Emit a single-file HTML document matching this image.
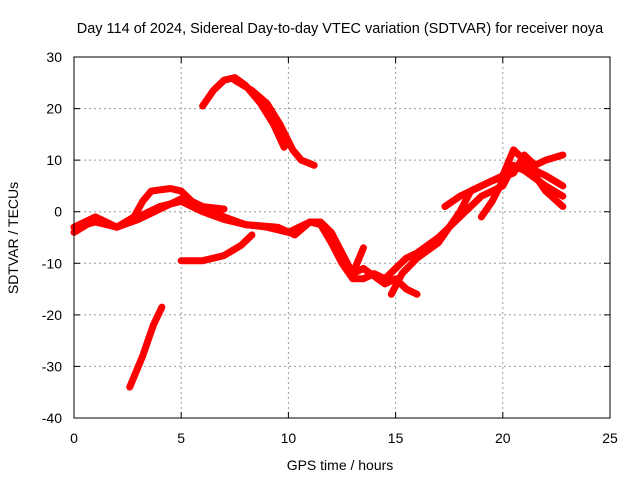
<!DOCTYPE html>
<html><head><meta charset="utf-8"><style>
body{margin:0;background:#fff;}
svg{display:block;font-family:"Liberation Sans",sans-serif;}
</style></head><body>
<svg id="chart" width="640" height="480" viewBox="0 0 640 480">
<rect width="640" height="480" fill="#fff"/>
<text x="340" y="33" font-size="14.5" text-anchor="middle">Day 114 of 2024, Sidereal Day-to-day VTEC variation (SDTVAR) for receiver noya</text>
<g id="grid"></g><g id="series"></g>
<rect x="74" y="57" width="536" height="361" fill="none" stroke="#000" stroke-width="1"/>
<g id="axes"></g>
<text x="340" y="470" font-size="14" text-anchor="middle">GPS time / hours</text>
<text transform="translate(18,238) rotate(-90)" font-size="14" text-anchor="middle">SDTVAR / TECUs</text>
</svg>
<script>
const xTicks=[0,5,10,15,20,25];
const yTicks=[30,20,10,0,-10,-20,-30,-40];
const trackA1=[[6,20.5],[6.5,23.5],[7,25.5],[7.5,26],[8,24.5],[8.7,21],[9.3,17],[9.8,12.5]];
const trackA2=[[7.5,25.5],[8.3,23.5],[9,21],[9.6,17],[10.2,12],[10.6,10],[11.2,9]];
const trackB=[[2.6,-34],[3.2,-28],[3.7,-22],[4.1,-18.5]];
const trackC=[[5,-9.5],[6,-9.5],[7,-8.5],[7.8,-6.5],[8.3,-4.5]];
const trackD=[[0,-4],[1,-1.5],[2,-3],[3,-1],[4,1],[5,2],[6,0],[7,-1.5],[8,-2.5],[9,-3],[10,-4],[10.5,-3],[11,-2],[11.5,-2.5],[12,-6],[12.5,-10],[13,-13],[13.5,-13],[14,-12],[14.5,-13],[15,-11],[15.5,-9],[16,-8],[17,-5],[18,-1],[19,3],[20,5],[20.5,9],[21,8],[22,5],[22.8,3]];
const trackE=[[0,-3],[1,-2],[2,-3],[2.8,-1],[3.2,2],[3.6,4],[4.5,4.5],[5,4],[5.5,2],[6,1],[7,0.5]];
const trackF=[[0,-3],[1,-1],[2,-3],[3,-1.5],[4,0.5],[5,2.5],[6,1],[7,-1],[8,-2.5],[9.5,-3],[10.3,-4.5],[11,-2],[11.5,-2],[12,-4],[12.5,-8],[13,-12],[13.5,-7]];
const trackG=[[12,-5],[12.5,-9],[13,-12],[13.5,-11],[14.5,-14],[15,-13],[15.5,-15],[16,-16]];
const trackH=[[14.8,-16],[15.3,-12],[16,-9],[17,-6],[17.5,-3],[18,0],[18.5,4],[19.5,6],[20.5,7.5],[21,11],[21.5,9],[22,10],[22.8,11]];
const trackI=[[17.3,1],[18,3],[19,5],[20,7],[20.5,12],[21,10],[22,4],[22.8,1]];
const trackJ=[[19,-1],[19.5,2],[20,6],[20.5,8],[21,9],[22,7],[22.8,5]];
const tracks=[trackA1,trackA2,trackB,trackC,trackD,trackE,trackF,trackG,trackH,trackI,trackJ];
const NS="http://www.w3.org/2000/svg";
const X0=74,X1=610,Y0=418,Y1=57;
function sx(v){return X0+(v-0)/(25-0)*(X1-X0);}
function sy(v){return Y0-(v+40)/70*(Y0-Y1);}
const grid=document.getElementById('grid'),axes=document.getElementById('axes'),ser=document.getElementById('series');
xTicks.forEach(t=>{
 const x=sx(t);
 if(t>0&&t<25){const l=document.createElementNS(NS,'line');
 
 
 l.setAttribute('x1',x);l.setAttribute('x2',x);l.setAttribute('y1',Y1);l.setAttribute('y2',Y0);l.setAttribute('stroke','#999');l.setAttribute('stroke-dasharray','2,3');grid.appendChild(l);}
 const tk=document.createElementNS(NS,'path');
 
 
 tk.setAttribute('d',`M${x},${Y0}v-6M${x},${Y1}v6`);tk.setAttribute('stroke','#000');axes.appendChild(tk);
 const tx=document.createElementNS(NS,'text');
 
 
 tx.setAttribute('x',x);tx.setAttribute('y',443);tx.setAttribute('font-size','14');tx.setAttribute('text-anchor','middle');tx.textContent=t;axes.appendChild(tx);
});
yTicks.forEach(t=>{
 const y=sy(t);
 if(t<30&&t>-40){const l=document.createElementNS(NS,'line');
 
 
 l.setAttribute('x1',X0);l.setAttribute('x2',X1);l.setAttribute('y1',y);l.setAttribute('y2',y);l.setAttribute('stroke','#999');l.setAttribute('stroke-dasharray','2,3');grid.appendChild(l);}
 const tk=document.createElementNS(NS,'path');
 
 
 tk.setAttribute('d',`M${X0},${y}h6M${X1},${y}h-6`);tk.setAttribute('stroke','#000');axes.appendChild(tk);
 const tx=document.createElementNS(NS,'text');
 
 
 tx.setAttribute('x',62);tx.setAttribute('y',y+5);tx.setAttribute('font-size','14');tx.setAttribute('text-anchor','end');tx.textContent=t;axes.appendChild(tx);
});
tracks.forEach(tr=>{
 const p=document.createElementNS(NS,'polyline');
 
 
 p.setAttribute('points',tr.map(d=>sx(d[0])+','+sy(d[1])).join(' '));
 p.setAttribute('fill','none');p.setAttribute('stroke','#f00');p.setAttribute('stroke-width','7');p.setAttribute('stroke-linejoin','round');p.setAttribute('stroke-linecap','round');
 ser.appendChild(p);
});
</script>
</body></html>
